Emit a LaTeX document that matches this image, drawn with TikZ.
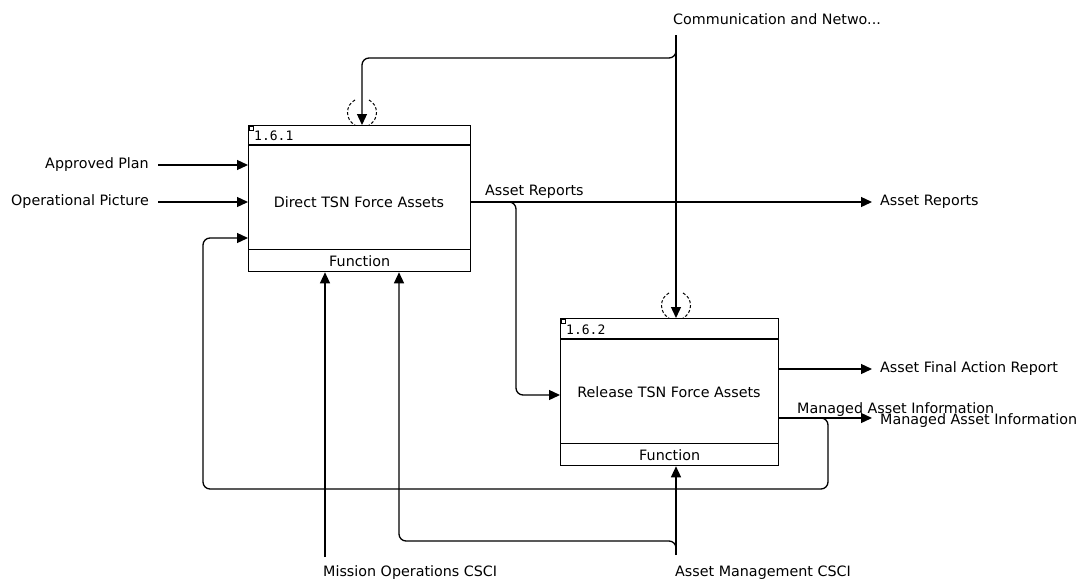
\documentclass[tikz,border=0pt]{standalone}
\usepackage{fontspec}
\setmainfont{DejaVu Sans}
\newfontfamily\numfont{DejaVu Sans Mono}
\usetikzlibrary{arrows.meta,calc}
\begin{document}
\begin{tikzpicture}[x=1pt,y=-1pt,
  lbl/.style={font=\fontsize{14.3}{16}\selectfont, inner sep=0pt},
  numlbl/.style={font=\numfont\fontsize{13}{14}\selectfont, inner sep=0pt, anchor=west},
  arr/.style={-{Triangle[length=11pt,width=10pt]}},
  ln/.style={line width=1.3pt},
  conn/.style={line width=1.3pt, rounded corners=7pt},
  fbox/.style={draw, line width=1.3pt, anchor=north west, inner sep=0pt},
  tunnel/.style={dash pattern=on 3pt off 2pt, line width=1pt}]
\useasboundingbox (0,0) rectangle (1080,584);
\fill[white] (0,0) rectangle (1080,584);

% ---- Box 1.6.1
\node[fbox, minimum width=222pt, minimum height=146pt] (b1) at (248,125) {};
\draw[ln] ($(b1.north west)+(0,20)$) -- ($(b1.north east)+(0,20)$);
\draw[ln] ($(b1.south west)+(0,-23)$) -- ($(b1.south east)+(0,-23)$);
\draw[line width=0.8pt] ($(b1.north west)+(1,1)$) rectangle ++(4,4);
\node[numlbl] (n1) at ($(b1.north west)+(6,11)$) {1.6.1};
\node[lbl] (t1) at (359,202) {Direct TSN Force Assets};
\node[lbl] (f1) at ($(b1.south)+(0,-11.5)$) {Function};

% ---- Box 1.6.2
\node[fbox, minimum width=218pt, minimum height=147pt] (b2) at (560,318) {};
\draw[ln] ($(b2.north west)+(0,21)$) -- ($(b2.north east)+(0,21)$);
\draw[ln] ($(b2.south west)+(0,-23)$) -- ($(b2.south east)+(0,-23)$);
\draw[line width=0.8pt] ($(b2.north west)+(1,1)$) rectangle ++(4,4);
\node[numlbl] (n2) at ($(b2.north west)+(6,11.5)$) {1.6.2};
\node[lbl] (t2) at (669,392) {Release TSN Force Assets};
\node[lbl] (f2) at ($(b2.south)+(0,-11.5)$) {Function};

% ---- Inputs to box 1
\node[lbl, anchor=east] (ap) at (149,165) {Approved Plan};
\node[lbl, anchor=east] (op) at (149,202) {Operational Picture};
\draw[ln, arr] ([xshift=9pt]ap.east) -- (b1.west |- ap.east);
\draw[ln, arr] ([xshift=9pt]op.east) -- (b1.west |- op.east);

% ---- Output Asset Reports
\node[lbl, anchor=west] (ar) at (880,202) {Asset Reports};
\node[lbl, anchor=base west] (arl) at (485,195) {Asset Reports};
\draw[ln, arr] (b1.east |- ar.west) -- ([xshift=-8pt]ar.west);
\coordinate (arj) at (500,202);
\draw[conn, arr] (arj) -- (516,202) -- (516,395) -- (b2.west |- 0,395);

% ---- Control: Communication and Network
\node[lbl, anchor=west] (cn) at (673,19) {Communication and Netwo...};
\coordinate (cnb) at (676,35);
\coordinate (c1) at (362,58);
\draw[ln, arr] (cnb) -- (cnb |- b2.north);
\draw[conn, arr] (676,45) -- (676,58) -- (c1) -- (c1 |- b1.north);
% tunnels
\draw[tunnel] (355,100) .. controls (345,105) and (345,120) .. (355,125);
\draw[tunnel] (369,100) .. controls (379,105) and (379,120) .. (369,125);
\draw[tunnel] (669,293) .. controls (659,298) and (659,313) .. (669,318);
\draw[tunnel] (683,293) .. controls (693,298) and (693,313) .. (683,318);

% ---- Outputs of box 2
\node[lbl, anchor=west] (afa) at (880,369) {Asset Final Action Report};
\node[lbl, anchor=west] (mai) at (880,421) {Managed Asset Information};
\node[lbl, anchor=base west] (mail) at (797,413) {Managed Asset Information};
\draw[ln, arr] (b2.east |- afa.west) -- ([xshift=-8pt]afa.west);
\draw[ln, arr] (b2.east |- 0,418) -- ([xshift=-8pt]mai.west |- 0,418);

% ---- Feedback loop
\draw[conn, arr] (812,418) -- (828,418) -- (828,489) -- (203,489) -- (203,238) -- (b1.west |- 0,238);

% ---- Mechanisms
\node[lbl, anchor=west] (mo) at (323,573) {Mission Operations CSCI};
\node[lbl, anchor=west] (am) at (675,573) {Asset Management CSCI};
\coordinate (mob) at (325,557);
\coordinate (amb) at (676,555);
\coordinate (brk) at (399,541);
\draw[ln, arr] (mob) -- (mob |- b1.south);
\draw[ln, arr] (amb) -- (amb |- b2.south);
\draw[conn, arr] (676,552) -- (676,541) -- (brk) -- (brk |- b1.south);
\end{tikzpicture}
\end{document}
